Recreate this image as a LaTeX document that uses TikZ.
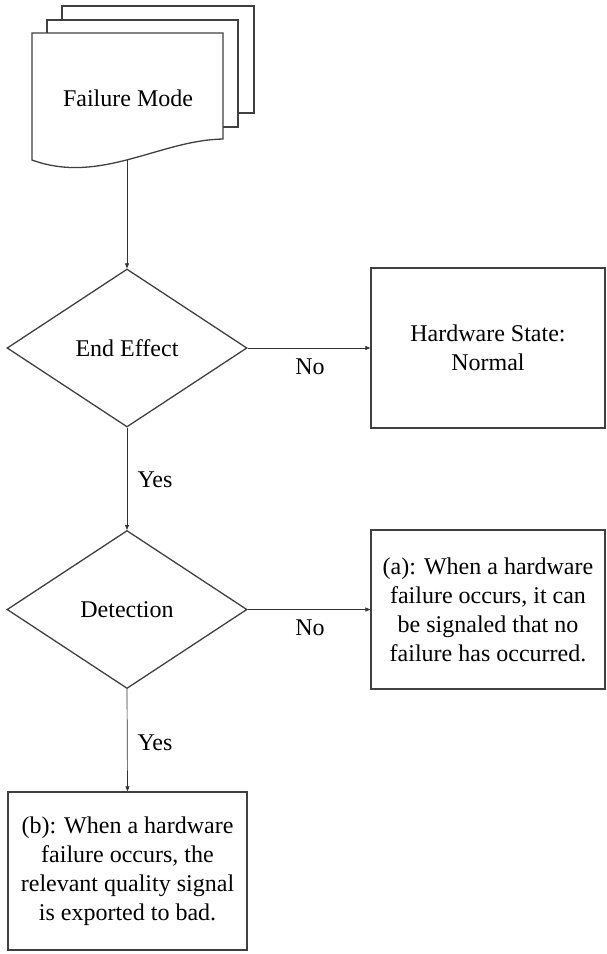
\documentclass[tikz,border=0pt]{standalone}
\usepackage{fontspec}
\setmainfont{Liberation Serif}
\usetikzlibrary{shapes.geometric,arrows.meta}
\begin{document}
\begin{tikzpicture}[x=1pt,y=-1pt,
  shapeline/.style={draw=black!75, line width=1.3pt},
  txt/.style={font=\fontsize{24}{29}\selectfont},
  decision/.style={shapeline, txt, diamond, aspect=1.5, inner sep=0pt, minimum width=240pt, minimum height=158pt},
  outbox/.style={shapeline, txt, rectangle, inner sep=0pt, align=center},
  conn/.style={draw=black!80, line width=0.7pt, -{Triangle[length=5pt,width=4pt]}},
  lbl/.style={txt, inner sep=0pt}]
\useasboundingbox (0,0) rectangle (606,954);
% multi-document shape
\draw[shapeline, fill=white] (62,6) rectangle (254,113);
\draw[shapeline, fill=white] (47,20) rectangle (238,127);
\draw[shapeline, fill=white] (32,33) -- (223,33) -- (223,139)
  .. controls (160,140) and (100,185) .. (32,160) -- cycle;
\node[txt] (fm) at (128,98) {Failure Mode};
\coordinate (fmb) at (127,160);
% decisions
\node[decision] (ee) at (127,348) {End Effect};
\node[decision] (det) at (127,609.5) {Detection};
% outcome boxes
\node[outbox, minimum width=234pt, minimum height=160pt] (hw) at (488,348) {Hardware State:\\Normal};
\node[outbox, minimum width=234pt, minimum height=159pt] (ba) at (488,609.5)
  {(a): When a hardware\\failure occurs, it can\\be signaled that no\\failure has occurred.};
\node[outbox, minimum width=239pt, minimum height=158pt] (bb) at (127.5,871)
  {(b): When a hardware\\failure occurs, the\\relevant quality signal\\is exported to bad.};
% connectors
\draw[conn] (fmb) -- (ee.north);
\draw[conn] (ee.east) -- (hw.west);
\draw[conn] (ee.south) -- (det.north);
\draw[conn] (det.east) -- (ba.west);
\draw[conn] (det.south) -- (bb.north);
% labels
\node[lbl] (no1) at (310,367) {No};
\node[lbl] (yes1) at (155,480) {Yes};
\node[lbl] (no2) at (310,628) {No};
\node[lbl] (yes2) at (155,743) {Yes};
\end{tikzpicture}
\end{document}
